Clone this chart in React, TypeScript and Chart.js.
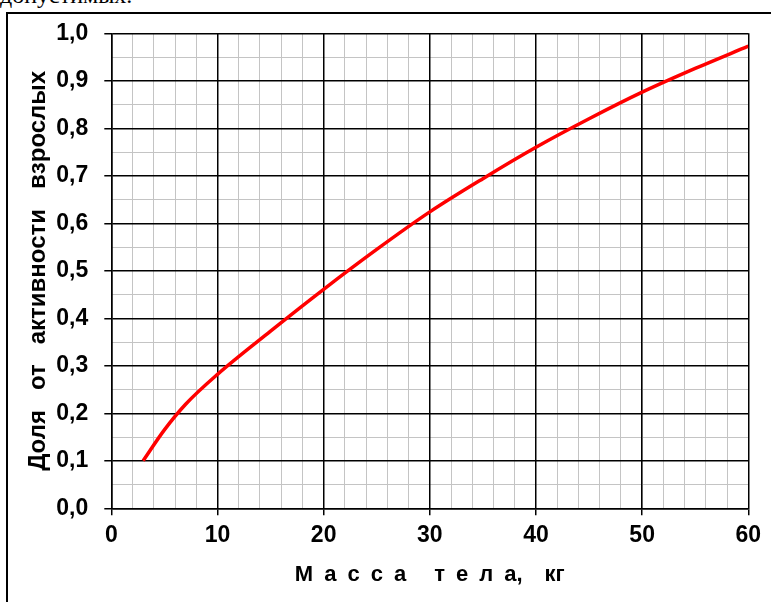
import React, { useEffect, useRef } from "react";
import { Chart, registerables } from "chart.js";

Chart.register(...registerables);

// Data
const massKg: number[] = [3, 5, 7, 10, 15, 20, 25, 30, 35, 40, 45, 50, 55, 60];
const shareOfAdult: number[] = [0.1, 0.165, 0.219, 0.282, 0.373, 0.461, 0.545, 0.624, 0.694, 0.76, 0.82, 0.876, 0.926, 0.973];

const xAxisTitle = "М\u2002а\u2002с\u2002с\u2002а\u2002\u2002 т\u2002е\u2002л\u2002а,\u2002\u2002кг";
const yAxisTitle = "Доля   от   активности   взрослых";
const headerText = "допустимых.";

const X_MIN = 0;
const X_MAX = 60;
const X_MAJOR = 10;
const X_MINOR = 2;
const Y_MIN = 0;
const Y_MAX = 1;
const Y_MAJOR = 0.1;
const Y_MINOR = 0.05;

const NARROW = "'Liberation Sans Narrow', 'Arial Narrow', 'Liberation Sans', Arial, sans-serif";
const WIDE = "'Liberation Sans', Arial, sans-serif";

const PLOT_LEFT = 111.3;
const PLOT_RIGHT = 748.3;
const PLOT_TOP = 33.3;
const PLOT_BOTTOM = 508.3;
const W = 771;
const H = 602;

export default function App() {
  const ref = useRef<HTMLCanvasElement | null>(null);

  useEffect(() => {
    if (!ref.current) return;
    const chart = new Chart(ref.current, {
      type: "line",
      data: {
        datasets: [
          {
            data: massKg.map((x, i) => ({ x, y: shareOfAdult[i] })),
            borderColor: "#ff0000",
            borderWidth: 3.5,
            pointRadius: 0,
            fill: false,
            cubicInterpolationMode: "monotone",
          },
        ],
      },
      options: {
        animation: false,
        responsive: false,
        maintainAspectRatio: false,
        layout: {
          padding: { top: PLOT_TOP, right: W - PLOT_RIGHT, left: 0, bottom: 0 },
        },
        plugins: {
          legend: { display: false },
          tooltip: { enabled: false },
        },
        scales: {
          xMinor: {
            type: "linear",
            position: "bottom",
            min: X_MIN,
            max: X_MAX,
            ticks: { display: false, stepSize: X_MINOR },
            grid: { color: "#c4c4c4", lineWidth: 1, drawTicks: false, z: -2 },
            border: { display: false },
            afterFit: (s: any) => {
              s.height = 0;
            },
          },
          yMinor: {
            type: "linear",
            position: "left",
            min: Y_MIN,
            max: Y_MAX,
            ticks: { display: false, stepSize: Y_MINOR },
            grid: { color: "#c4c4c4", lineWidth: 1, drawTicks: false, z: -2 },
            border: { display: false },
            afterFit: (s: any) => {
              s.width = 0;
            },
          },
          x: {
            type: "linear",
            position: "bottom",
            min: X_MIN,
            max: X_MAX,
            ticks: {
              stepSize: X_MAJOR,
              color: "#000",
              padding: 7,
              font: { family: NARROW, size: 23, weight: "bold" },
              callback: (v: any) => String(Math.round(Number(v))),
            },
            grid: { color: "#000", lineWidth: 1.5, tickLength: 7, tickColor: "#000", z: -1 },
            border: { display: true, color: "#000", width: 1.5 },
            title: {
              display: true,
              text: xAxisTitle,
              color: "#000",
              font: { family: WIDE, size: 22, weight: "bold" },
              padding: { top: 0, bottom: 14 },
            },
            afterFit: (s: any) => {
              s.height = H - PLOT_BOTTOM;
            },
          },
          y: {
            type: "linear",
            position: "left",
            min: Y_MIN,
            max: Y_MAX,
            ticks: {
              stepSize: Y_MAJOR,
              color: "#000",
              padding: 16,
              font: { family: NARROW, size: 23, weight: "bold" },
              callback: (v: any) => Number(v).toFixed(1).replace(".", ","),
            },
            grid: { color: "#000", lineWidth: 1.5, tickLength: 7, tickColor: "#000", z: -1 },
            border: { display: true, color: "#000", width: 1.5 },
            title: {
              display: true,
              text: yAxisTitle,
              color: "#000",
              font: { family: NARROW, size: 24, weight: "bold" },
              padding: { top: 24, bottom: 0 },
            },
            afterFit: (s: any) => {
              s.width = PLOT_LEFT;
            },
          },
        },
      },
    });
    return () => chart.destroy();
  }, []);

  return (
    <div
      style={{
        position: "absolute",
        left: 0,
        top: 0,
        width: W,
        height: H,
        overflow: "hidden",
        background: "#fff",
      }}
    >
      <div
        style={{
          position: "absolute",
          left: 0,
          top: -17,
          fontFamily: "'Liberation Serif', 'Times New Roman', serif",
          fontSize: 24,
          lineHeight: "24px",
          whiteSpace: "nowrap",
          color: "#000",
        }}
      >
        {headerText}
      </div>
      <div
        style={{
          position: "absolute",
          left: 6,
          top: 12,
          width: 1000,
          height: 1000,
          borderLeft: "2px solid #000",
          borderTop: "2px solid #000",
        }}
      />
      <canvas
        ref={ref}
        width={W}
        height={H}
        style={{ position: "absolute", left: 0, top: 0, width: W, height: H }}
      />
    </div>
  );
}
